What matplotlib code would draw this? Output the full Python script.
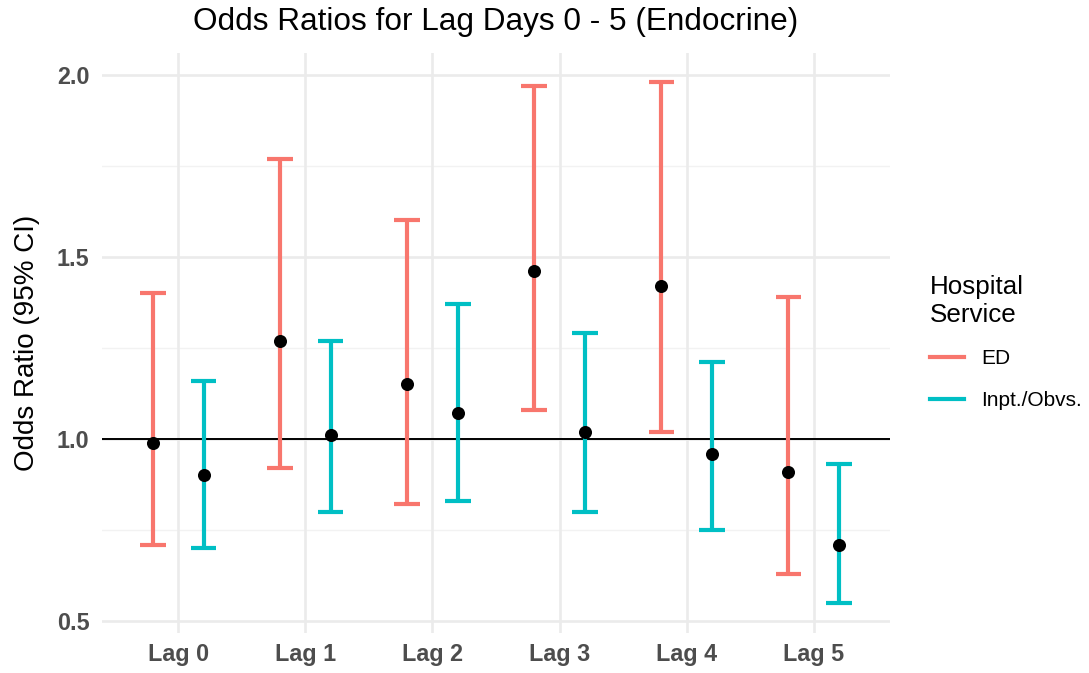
import matplotlib
matplotlib.use("Agg")
import matplotlib.pyplot as plt
from matplotlib.lines import Line2D
import numpy as np

plt.rcParams['font.family'] = ['Liberation Sans', 'DejaVu Sans']

lags = ["Lag 0", "Lag 1", "Lag 2", "Lag 3", "Lag 4", "Lag 5"]
services = ["ED", "Inpt./Obvs."]
colors = {"ED": "#F8766D", "Inpt./Obvs.": "#00BFC4"}

ed_or = [0.99, 1.27, 1.15, 1.46, 1.42, 0.91]
ed_lo = [0.71, 0.92, 0.82, 1.08, 1.02, 0.63]
ed_hi = [1.40, 1.77, 1.60, 1.97, 1.98, 1.39]

ip_or = [0.90, 1.01, 1.07, 1.02, 0.96, 0.71]
ip_lo = [0.70, 0.80, 0.83, 0.80, 0.75, 0.55]
ip_hi = [1.16, 1.27, 1.37, 1.29, 1.21, 0.93]

W, H = 1089, 673
fig = plt.figure(figsize=(W/100, H/100), dpi=100)
ax = fig.add_axes([102/W, (H-633)/H, 788/W, 580/H])

x = np.arange(len(lags))
dodge = 0.2
cap = 0.1
data = {"ED": (ed_or, ed_lo, ed_hi, -dodge), "Inpt./Obvs.": (ip_or, ip_lo, ip_hi, dodge)}

ax.set_xlim(-0.6, 5.6)
ax.set_ylim(0.467, 2.060)

# grid
for yv in [0.75, 1.25, 1.75]:
    ax.axhline(yv, color="#F2F2F2", lw=1.0, zorder=0)
for yv in [0.5, 1.0, 1.5, 2.0]:
    ax.axhline(yv, color="#EBEBEB", lw=1.9, zorder=0)
for xv in x:
    ax.axvline(xv, color="#EBEBEB", lw=1.9, zorder=0)

ax.axhline(1.0, color="black", lw=1.4, zorder=1)

for s in services:
    orv, lo, hi, off = data[s]
    xs = x + off
    c = colors[s]
    ax.vlines(xs, lo, hi, color=c, lw=3.0, zorder=2)
    ax.hlines(lo, xs - cap, xs + cap, color=c, lw=3.0, zorder=2)
    ax.hlines(hi, xs - cap, xs + cap, color=c, lw=3.0, zorder=2)
    ax.plot(xs, orv, 'o', color='black', ms=9.4, zorder=3, mec='none')

ax.set_xticks(x)
ax.set_xticklabels(lags)
ax.set_yticks([0.5, 1.0, 1.5, 2.0])
ax.set_yticklabels(["0.5", "1.0", "1.5", "2.0"])
for lab in ax.get_xticklabels() + ax.get_yticklabels():
    lab.set_fontweight('bold')
    lab.set_color('#4D4D4D')
    lab.set_fontsize(16.8)
ax.tick_params(axis='x', length=0, pad=7)
ax.tick_params(axis='y', length=0, pad=9)
for sp in ax.spines.values():
    sp.set_visible(False)

ax.set_ylabel("Odds Ratio (95% CI)", fontsize=20)
ax.yaxis.set_label_coords(-(102 - 40) / 788, 0.5)
fig.text(496/W, 1 - 22/H, "Odds Ratios for Lag Days 0 - 5 (Endocrine)",
         ha='center', va='center', fontsize=22.7)

handles = [Line2D([0], [0], color=colors[s], lw=3.0) for s in services]
leg = fig.legend(handles, services, loc='upper left', bbox_to_anchor=(911/W, 1 - 256/H),
                 frameon=False, title="Hospital\nService", fontsize=15,
                 title_fontsize=18.7, handlelength=1.65, labelspacing=1.1,
                 handletextpad=0.8, alignment='left')

fig.savefig("out.png", dpi=100)
